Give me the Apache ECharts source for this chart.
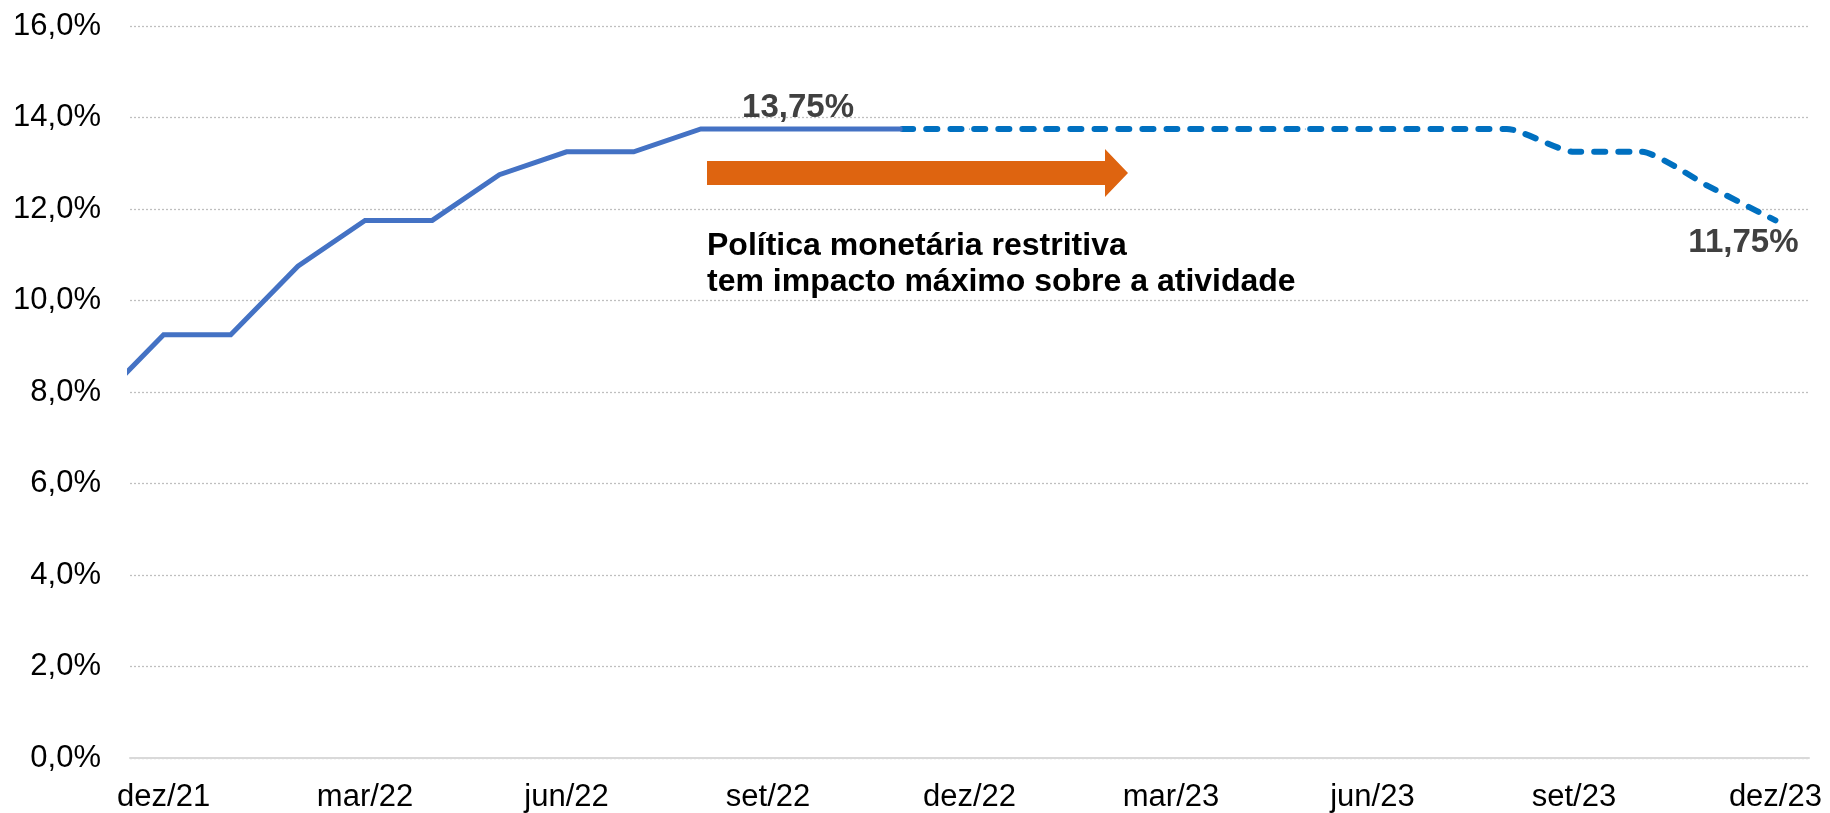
<!DOCTYPE html>
<html><head><meta charset="utf-8">
<script src="https://cdn.jsdelivr.net/npm/echarts@6/dist/echarts.min.js"></script>
<style>html,body{margin:0;padding:0;background:#fff}#c{width:1830px;height:813px}</style>
</head><body><div id="c"></div>
<script>
// months (index = x position); nov/21 lies just outside the left edge and is clipped
const months = ['nov/21','dez/21','jan/22','fev/22','mar/22','abr/22','mai/22','jun/22','jul/22','ago/22','set/22','out/22','nov/22','dez/22','jan/23','fev/23','mar/23','abr/23','mai/23','jun/23','jul/23','ago/23','set/23','out/23','nov/23','dez/23'];
// realized Selic (nov/21 .. nov/22)
const selic = [7.75, 9.25, 9.25, 10.75, 11.75, 11.75, 12.75, 13.25, 13.25, 13.75, 13.75, 13.75, 13.75];
const selicStart = 0;
// projected Selic (nov/22 .. dez/23)
const projection = [13.75, 13.75, 13.75, 13.75, 13.75, 13.75, 13.75, 13.75, 13.75, 13.75, 13.25, 13.25, 12.5, 11.75];
const projStart = 12;
const yTicks = [0, 2, 4, 6, 8, 10, 12, 14, 16];
const labelPeak = 10;     // set/22
const labelEnd = 13;      // last projection point
const noteText = 'Política monetária restritiva\ntem impacto máximo sobre a atividade';

const FONT = '"Liberation Sans", Arial, sans-serif';
const fmt = v => v.toFixed(2).replace('.', ',') + '%';

const selicData = selic.map((v, i) => {
  const item = { value: [selicStart + i, v] };
  if (i === labelPeak) item.label = { show: true, position: 'top', distance: 4, offset: [30, 0], formatter: p => fmt(p.value[1]), fontSize: 33, fontWeight: 'bold', color: '#404040', fontFamily: FONT };
  return item;
});
const projData = projection.map((v, i) => {
  const item = { value: [projStart + i, v] };
  if (i === labelEnd) item.label = { show: true, position: 'bottom', distance: 5, offset: [-32, 0], formatter: p => fmt(p.value[1]), fontSize: 33, fontWeight: 'bold', color: '#404040', fontFamily: FONT };
  return item;
});

const chart = echarts.init(document.getElementById('c'));
chart.setOption({
  animation: false,
  grid: { left: 130, right: 21, top: 26, bottom: 53.5, containLabel: false },
  xAxis: {
    type: 'value', min: 0.5, max: 25.5, interval: 0.5,
    axisLine: { show: true, lineStyle: { color: '#D9D9D9', width: 2 } },
    axisTick: { show: false },
    splitLine: { show: false },
    axisLabel: {
      margin: 24, fontSize: 31, color: '#000', fontFamily: FONT, showMinLabel: true, showMaxLabel: true,
      formatter: v => (Number.isInteger(v) && (v - 1) % 3 === 0) ? months[v] : ''
    }
  },
  yAxis: {
    type: 'value', min: yTicks[0], max: yTicks[yTicks.length - 1], interval: 2,
    axisLine: { show: false }, axisTick: { show: false },
    splitLine: { show: true, lineStyle: { color: '#BFBFBF', type: [2, 2], width: 1.3 } },
    axisLabel: { margin: 29, fontSize: 31, color: '#000', fontFamily: FONT, formatter: v => v.toFixed(1).replace('.', ',') + '%' }
  },
  series: [
    { type: 'line', data: selicData, showSymbol: true, symbol: 'circle', symbolSize: 1, clip: true,
      lineStyle: { color: '#4472C4', width: 5, join: 'miter' }, itemStyle: { color: '#4472C4' }, z: 3 },
    { type: 'line', data: projData, showSymbol: true, symbol: 'circle', symbolSize: 1, clip: true, smooth: 0.2,
      lineStyle: { color: '#0070C0', width: 6, type: [11, 13], cap: 'round' }, itemStyle: { color: '#0070C0' }, z: 2 }
  ],
  graphic: [
    { type: 'polygon', shape: { points: [[707,161],[1105,161],[1105,149],[1128,173],[1105,197],[1105,185],[707,185]] }, style: { fill: '#DE6410' } },
    { type: 'text', left: 707, top: 228, style: { text: noteText, font: 'bold 32px ' + FONT, fill: '#000', lineHeight: 36 } }
  ]
});
</script></body></html>
